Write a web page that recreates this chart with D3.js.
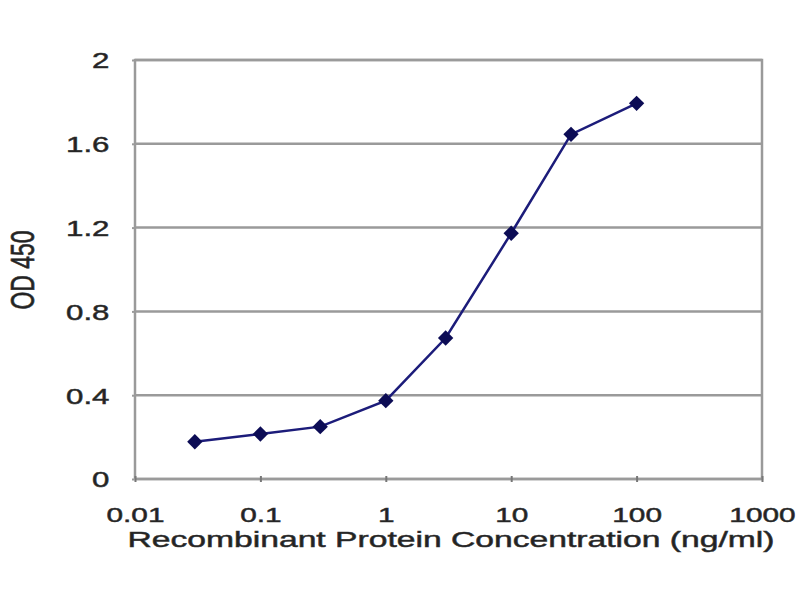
<!DOCTYPE html>
<html>
<head>
<meta charset="utf-8">
<script src="https://cdn.jsdelivr.net/npm/d3@7"></script>
<style>
  body { margin: 0; background: #fff; }
  text { font-family: "Liberation Sans", Arial, sans-serif; fill: #222; stroke: #333; stroke-width: 0.5px; }
</style>
</head>
<body>
<svg id="chart" width="800" height="600"></svg>
<script>
// data
var concentrations = [0.03, 0.1, 0.3, 1, 3, 10, 30, 100];
var odValues = [0.178, 0.215, 0.25, 0.374, 0.673, 1.173, 1.645, 1.793];
var xTicks = [0.01, 0.1, 1, 10, 100, 1000];
var xTickLabels = ['0.01', '0.1', '1', '10', '100', '1000'];
var yTicks = [0, 0.4, 0.8, 1.2, 1.6, 2];
var yTickLabels = ['0', '0.4', '0.8', '1.2', '1.6', '2'];

var margin = {left: 135, right: 38, top: 60, bottom: 121};
var width = 800 - margin.left - margin.right;
var height = 600 - margin.top - margin.bottom;
var gray = '#9a9a9a';
var navy = '#1c1c7a';
var stretch = 1.42; // the source image is squashed wide

var svg = d3.select('#chart');
var g = svg.append('g')
    .attr('transform', 'translate(' + margin.left + ',' + margin.top + ')');

var x = d3.scaleLog().domain([0.01, 1000]).range([0, width]);
var y = d3.scaleLinear().domain([0, 2]).range([height, 0]);

// horizontal grid
g.selectAll('line.grid')
    .data(yTicks)
    .enter().append('line')
    .attr('class', 'grid')
    .attr('x1', 0)
    .attr('x2', width)
    .attr('y1', function(d){ return y(d); })
    .attr('y2', function(d){ return y(d); })
    .style('stroke', gray)
    .style('stroke-width', 2.5);

// frame
g.append('rect')
    .attr('width', width)
    .attr('height', height)
    .style('fill', 'none')
    .style('stroke', gray)
    .style('stroke-width', 2.5);

// x axis
var xAxis = g.append('g')
    .attr('transform', 'translate(0,' + height + ')')
    .call(d3.axisBottom(x)
        .tickValues(xTicks)
        .tickFormat(function(d, i){ return xTickLabels[i]; })
        .tickSizeInner(3)
        .tickSizeOuter(0)
        .tickPadding(25));
xAxis.select('.domain').remove();
xAxis.selectAll('.tick line')
    .attr('y1', -3)
    .style('stroke', '#777')
    .style('stroke-width', 2);
xAxis.selectAll('.tick text')
    .attr('font-size', 21)
    .attr('fill', '#222')
    .attr('transform', 'scale(' + stretch + ',1)');

// y axis
var yAxis = g.append('g')
    .call(d3.axisLeft(y)
        .tickValues(yTicks)
        .tickFormat(function(d, i){ return yTickLabels[i]; })
        .tickSizeInner(3)
        .tickSizeOuter(0)
        .tickPadding(15));
yAxis.select('.domain').remove();
yAxis.selectAll('.tick line')
    .style('stroke', gray)
    .style('stroke-width', 2);
yAxis.selectAll('.tick text')
    .attr('font-size', 22)
    .attr('fill', '#222')
    .attr('dy', '0.36em')
    .attr('transform', 'scale(' + stretch + ',1)');

// axis titles
svg.append('text')
    .attr('transform', 'translate(451,547) scale(1.53,1)')
    .attr('text-anchor', 'middle')
    .attr('font-size', 22)
    .text('Recombinant Protein Concentration (ng/ml)');

svg.append('text')
    .attr('transform', 'translate(34,270) scale(' + stretch + ',1) rotate(-90)')
    .attr('text-anchor', 'middle')
    .attr('font-size', 23)
    .text('OD 450');

// series
var points = concentrations.map(function(c, i){ return {x: c, y: odValues[i]}; });

g.append('path')
    .datum(points)
    .attr('d', d3.line()
        .x(function(d){ return x(d.x); })
        .y(function(d){ return y(d.y); }))
    .style('fill', 'none')
    .style('stroke', navy)
    .style('stroke-width', 2.5);

g.selectAll('path.marker')
    .data(points)
    .enter().append('path')
    .attr('class', 'marker')
    .attr('d', d3.symbol().type(d3.symbolDiamond2).size(150))
    .attr('transform', function(d){ return 'translate(' + x(d.x) + ',' + y(d.y) + ')'; })
    .style('fill', '#0c0c55');
</script>
</body>
</html>
